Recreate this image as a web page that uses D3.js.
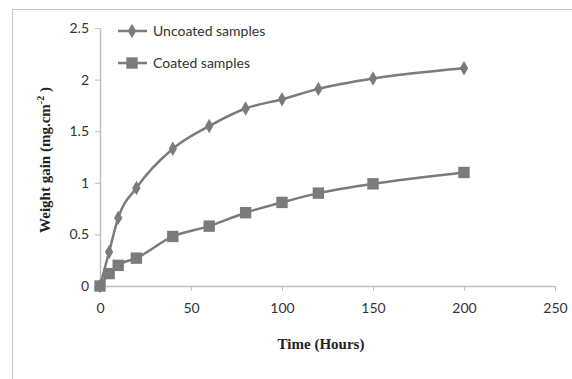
<!DOCTYPE html>
<html>
<head>
<meta charset="utf-8">
<script src="https://cdn.jsdelivr.net/npm/d3@7"></script>
<style>
  body { margin: 0; background: #fff; }
  svg { display: block; }
</style>
</head>
<body>
<svg id="chart" width="572" height="379"></svg>
<script>
// data
const hours = [0, 5, 10, 20, 40, 60, 80, 100, 120, 150, 200];
const uncoated = [0, 0.33, 0.66, 0.95, 1.33, 1.55, 1.72, 1.81, 1.91, 2.01, 2.11];
const coated = [0, 0.12, 0.2, 0.27, 0.48, 0.58, 0.71, 0.81, 0.9, 0.99, 1.1];
const xTicks = [0, 50, 100, 150, 200, 250];
const yTicks = [0, 0.5, 1, 1.5, 2, 2.5];
const seriesNames = ["Uncoated samples", "Coated samples"];

const svg = d3.select("#chart");
const grey = "#7b7b7b";
const tickFont = "Lato, 'Open Sans', sans-serif";

// outer frame (cut off at right and bottom)
svg.append("rect")
  .attr("x", 12.5).attr("y", 9.5)
  .attr("width", 600).attr("height", 400)
  .attr("fill", "none").attr("stroke", "#c8c8c8");

const x = d3.scaleLinear().domain([0, 250]).range([100, 555]);
const y = d3.scaleLinear().domain([0, 2.5]).range([286, 28]);

// x axis
const xAxis = svg.append("g")
  .attr("transform", "translate(0,286)")
  .call(d3.axisBottom(x).tickValues(xTicks).tickSize(5).tickPadding(12).tickSizeOuter(0));
xAxis.select(".domain").attr("stroke", "#c0c0c0").attr("stroke-width", 1.5);
xAxis.selectAll(".tick line").attr("stroke", "#c0c0c0");
xAxis.selectAll("text")
  .attr("font-family", tickFont)
  .attr("font-size", 14).attr("fill", "#333");

// y axis
const yAxis = svg.append("g")
  .attr("transform", "translate(100,0)")
  .call(d3.axisLeft(y).tickValues(yTicks).tickFormat(d => String(d)).tickSize(5).tickPadding(6).tickSizeOuter(0));
yAxis.select(".domain").attr("stroke", "#c0c0c0").attr("stroke-width", 1.5);
yAxis.selectAll(".tick line").attr("stroke", "#c0c0c0");
yAxis.selectAll("text")
  .attr("font-family", tickFont)
  .attr("font-size", 14).attr("fill", "#333");

// axis titles
svg.append("text")
  .attr("x", 321).attr("y", 349)
  .attr("text-anchor", "middle")
  .attr("font-family", "'Liberation Serif', serif")
  .attr("font-weight", "bold").attr("font-size", 15).attr("fill", "#222")
  .text("Time (Hours)");

const yTitle = svg.append("text")
  .attr("transform", "translate(50,160) rotate(-90)")
  .attr("text-anchor", "middle")
  .attr("font-family", "'Liberation Serif', serif")
  .attr("font-weight", "bold").attr("font-size", 15).attr("fill", "#222");
yTitle.append("tspan").text("Weight gain (mg.cm");
yTitle.append("tspan").attr("dy", -6).attr("font-size", 10).text("-2");
yTitle.append("tspan").attr("dy", 6).text(" )");

const line = d3.line()
  .x((d, i) => x(hours[i]))
  .y(d => y(d))
  .curve(d3.curveMonotoneX);

const diamond = d3.symbol().type(d3.symbolDiamond).size(60);
const square = d3.symbol().type(d3.symbolSquare).size(130);

function drawSeries(values, sym) {
  svg.append("path")
    .datum(values)
    .attr("d", line)
    .attr("fill", "none")
    .attr("stroke", grey)
    .attr("stroke-width", 2.5);
  svg.selectAll(null)
    .data(values)
    .enter()
    .append("path")
    .attr("d", sym)
    .attr("transform", (d, i) => "translate(" + x(hours[i]) + "," + y(d) + ")")
    .attr("fill", grey);
}

drawSeries(coated, square);
drawSeries(uncoated, diamond);

// legend
const legend = svg.append("g");
[diamond, square].forEach((sym, i) => {
  const ly = 31 + i * 32;
  legend.append("line")
    .attr("x1", 118).attr("x2", 147).attr("y1", ly).attr("y2", ly)
    .attr("stroke", grey).attr("stroke-width", 2.5);
  legend.append("path")
    .attr("d", sym)
    .attr("transform", "translate(132," + ly + ")")
    .attr("fill", grey);
  legend.append("text")
    .attr("x", 153).attr("y", ly + 5)
    .attr("font-family", tickFont)
    .attr("font-size", 14).attr("fill", "#333")
    .text(seriesNames[i]);
});
</script>
</body>
</html>
